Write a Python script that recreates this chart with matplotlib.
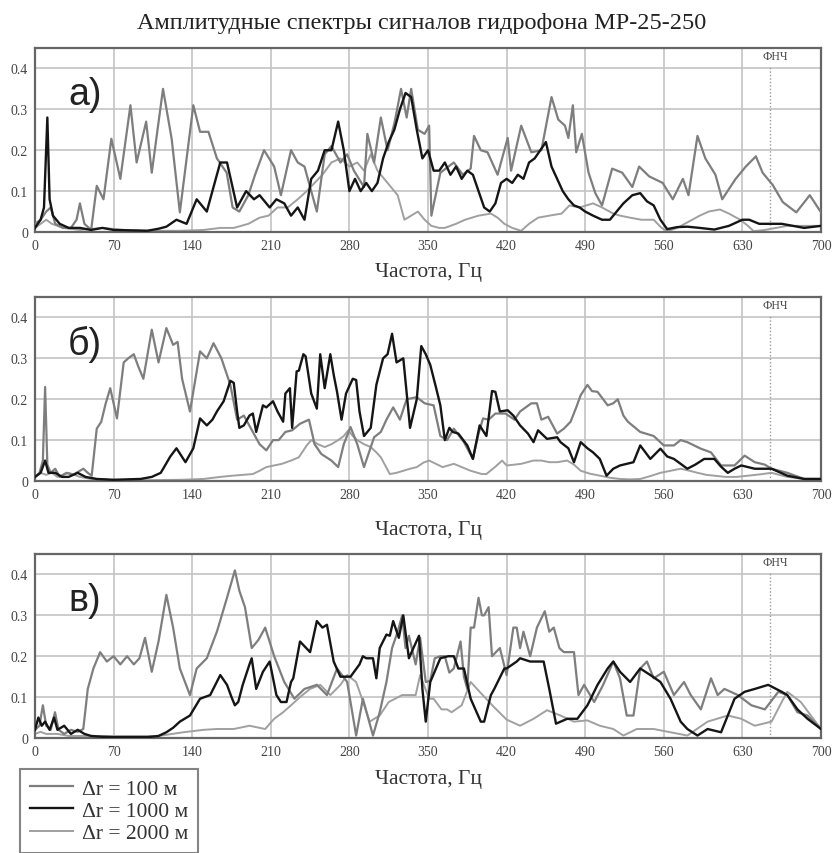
import matplotlib
matplotlib.use("Agg")
import matplotlib.pyplot as plt

plt.rcParams['font.family'] = ['Liberation Serif', 'DejaVu Serif']

title = "Амплитудные спектры сигналов гидрофона МР-25-250"
xlabel = "Частота, Гц"
panel_labels = ["а)", "б)", "в)"]
series_names = ["Δr = 100 м", "Δr = 1000 м", "Δr = 2000 м"]
xticks = [0, 70, 140, 210, 280, 350, 420, 490, 560, 630, 700]
yticks = [0, 0.1, 0.2, 0.3, 0.4]
ytick_labels = ["0", "0.1", "0.2", "0.3", "0.4"]
lpf_freq = 655
lpf_label = "ФНЧ"

# ---------- panel а ----------
a100_f = [0, 5, 10, 14, 18, 25, 32, 37, 40, 44, 50, 55, 61, 68, 76, 85, 90.5, 99, 104, 114, 121.7, 129, 141, 147, 154.5,
          162, 170.7, 176, 182, 190, 196, 204, 213, 219, 228, 234, 240, 246, 251, 258, 264, 272, 278, 284, 293, 296,
          302, 308, 314, 320, 326, 331, 335, 341, 347, 351, 353, 361, 373, 381, 388, 391, 397, 403, 412, 421, 424,
          433, 442, 451, 460, 466, 472, 475, 479, 482, 487, 493, 499, 505, 514, 523, 532, 538, 547, 559, 568, 577,
          582, 590, 597, 606, 612, 624, 633, 642, 648, 657, 666, 678, 690, 700]
a100_v = [0.02, 0.03, 0.05, 0.06, 0.02, 0.01, 0.01, 0.03, 0.07, 0.02, 0.005, 0.113, 0.08, 0.228, 0.13, 0.31, 0.17, 0.27,
          0.145, 0.35, 0.228, 0.048, 0.31, 0.245, 0.245, 0.18, 0.145, 0.06, 0.05, 0.09, 0.14, 0.2, 0.16, 0.09, 0.2, 0.17,
          0.16, 0.1, 0.05, 0.19, 0.21, 0.17, 0.19, 0.15, 0.11, 0.24, 0.17, 0.28, 0.2, 0.265, 0.35, 0.28, 0.35, 0.25,
          0.24, 0.26, 0.04, 0.145, 0.17, 0.14, 0.155, 0.235, 0.2, 0.195, 0.14, 0.23, 0.15, 0.26, 0.195, 0.2, 0.33,
          0.275, 0.26, 0.23, 0.31, 0.195, 0.24, 0.145, 0.095, 0.065, 0.155, 0.145, 0.11, 0.16, 0.136, 0.12, 0.08,
          0.13, 0.09, 0.235, 0.18, 0.14, 0.08, 0.13, 0.16, 0.185, 0.145, 0.115, 0.073, 0.048, 0.09, 0.048]

a1000_f = [0, 5, 8, 11, 13, 16, 22, 30, 40, 50, 60, 70, 100, 110, 117, 126, 135, 144, 153, 160, 165, 171, 180, 188, 195,
           200, 209, 215, 222, 228, 234, 240, 246, 252, 258, 264, 270, 275, 280, 285, 290, 295, 300, 305, 310, 315,
           320, 325, 330, 335, 340, 345, 350, 355, 360, 365, 370, 375, 380, 385, 390, 395, 400, 405, 410, 415, 420,
           425, 430, 435, 440, 445, 450, 455, 460, 465, 470, 475, 480, 485, 490, 497, 505, 512, 518, 524, 532, 539,
           545, 551, 557, 563, 572, 581, 592, 605, 618, 630, 636, 645, 655, 665, 675, 685, 700]
a1000_v = [0.01, 0.03, 0.06, 0.28, 0.08, 0.04, 0.02, 0.01, 0.01, 0.005, 0.01, 0.005, 0.003, 0.008, 0.013, 0.03, 0.02,
           0.08, 0.05, 0.12, 0.17, 0.17, 0.06, 0.1, 0.08, 0.09, 0.06, 0.08, 0.07, 0.04, 0.06, 0.03, 0.13, 0.15, 0.2,
           0.2, 0.27, 0.2, 0.1, 0.13, 0.1, 0.12, 0.1, 0.12, 0.18, 0.22, 0.25, 0.3, 0.34, 0.33, 0.25, 0.18, 0.2, 0.15,
           0.15, 0.17, 0.14, 0.16, 0.13, 0.15, 0.14, 0.1, 0.06, 0.05, 0.07, 0.12, 0.13, 0.12, 0.14, 0.13, 0.17, 0.18,
           0.2, 0.22, 0.16, 0.13, 0.1, 0.08, 0.065, 0.06, 0.05, 0.04, 0.03, 0.03, 0.05, 0.07, 0.09, 0.095, 0.075,
           0.065, 0.03, 0.007, 0.012, 0.013, 0.01, 0.006, 0.015, 0.03, 0.03, 0.02, 0.02, 0.02, 0.015, 0.01, 0.015]

a2000_f = [0, 5, 10, 15, 25, 40, 60, 80, 100, 130, 150, 165, 177, 190, 200, 208, 216, 225, 234, 242, 249, 256, 264, 272,
           280, 287, 293, 299, 305, 311, 317, 323, 329, 335, 341, 347, 353, 360, 365, 375, 383, 395, 406, 412, 418,
           425, 433, 440, 448, 458, 469, 476, 485, 497, 505, 515, 521, 530, 540, 551, 558, 563, 572, 582, 592, 600,
           610, 618, 628, 635, 640, 650, 660, 670, 685, 700]
a2000_v = [0.01, 0.02, 0.03, 0.02, 0.01, 0.005, 0.01, 0.005, 0.003, 0.003, 0.005, 0.01, 0.01, 0.02, 0.035, 0.04, 0.06,
           0.06, 0.08, 0.1, 0.12, 0.14, 0.17, 0.18, 0.16, 0.17, 0.15, 0.19, 0.15, 0.13, 0.11, 0.09, 0.03, 0.04, 0.05,
           0.03, 0.015, 0.01, 0.01, 0.02, 0.03, 0.04, 0.045, 0.035, 0.02, 0.01, 0.003, 0.02, 0.035, 0.04, 0.045, 0.065,
           0.06, 0.07, 0.06, 0.045, 0.04, 0.035, 0.03, 0.03, 0.01, 0.002, 0.01, 0.025, 0.04, 0.05, 0.055, 0.045, 0.03,
           0.015, 0.002, 0.005, 0.01, 0.015, 0.015, 0.015]

# ---------- panel б ----------
b100_f = [0, 4, 7, 9, 11, 14, 18, 22, 28, 34, 40, 43, 47, 50.5, 55, 59, 63, 67, 73, 79, 83, 88, 92, 96.5, 104, 110, 117,
          123, 127, 131, 138, 147, 153, 159, 166, 174, 180, 186, 194, 200, 206, 212, 217, 223, 229, 236, 244, 249,
          255, 264, 270, 275, 281, 287, 293, 302, 308, 313, 319, 325, 331, 340, 347, 355, 361, 367, 373, 382, 390,
          395, 399, 404, 410, 419, 427, 432, 442, 447, 451, 457, 465, 471, 477, 482, 486, 492, 496, 501, 506, 510,
          515, 519, 524, 528, 539, 545, 551, 560, 569, 575, 581, 593, 602, 611, 623, 632, 641, 650, 656, 670, 685, 700]
b100_v = [0.01, 0.02, 0.05, 0.23, 0.04, 0.02, 0.03, 0.01, 0.02, 0.015, 0.025, 0.03, 0.02, 0.013, 0.128, 0.145, 0.19,
          0.227, 0.153, 0.29, 0.3, 0.31, 0.28, 0.25, 0.37, 0.29, 0.374, 0.333, 0.34, 0.25, 0.17, 0.317, 0.3, 0.337, 0.3,
          0.235, 0.15, 0.16, 0.12, 0.09, 0.075, 0.1, 0.1, 0.12, 0.124, 0.14, 0.15, 0.09, 0.066, 0.05, 0.034, 0.09,
          0.132, 0.09, 0.034, 0.107, 0.12, 0.15, 0.18, 0.15, 0.2, 0.205, 0.19, 0.185, 0.11, 0.1, 0.128, 0.095, 0.054,
          0.116, 0.153, 0.15, 0.165, 0.165, 0.15, 0.17, 0.19, 0.19, 0.15, 0.157, 0.116, 0.128, 0.145, 0.18, 0.21,
          0.235, 0.22, 0.218, 0.2, 0.185, 0.19, 0.2, 0.16, 0.145, 0.12, 0.115, 0.11, 0.087, 0.087, 0.1, 0.095, 0.079,
          0.07, 0.038, 0.038, 0.062, 0.046, 0.04, 0.03, 0.02, 0.005, 0.005]

b1000_f = [0, 5, 9, 12, 18, 24, 30, 38, 45, 55, 70, 94, 104, 112, 120.5, 126, 134, 141, 147, 153, 158, 162, 168, 174,
           177, 180, 182, 186, 191, 194, 197, 203, 206, 212, 216, 221, 223, 227, 229, 233, 235, 239, 241, 246, 251,
           254, 258, 263, 266, 269, 273, 277, 283, 286, 289, 293, 299, 304, 310, 314, 318, 322, 328, 334, 340, 344,
           348, 352, 357, 361, 365, 369, 372, 377, 385, 390, 396, 402, 407, 410, 414, 421, 426, 432, 439, 444, 448,
           456, 465, 468, 475, 480, 486, 492, 497, 503, 509, 515, 521, 533, 539, 548, 557, 563, 569, 581, 588, 596,
           605, 611, 617, 623, 629, 641, 656, 670, 685, 700]
b1000_v = [0.01, 0.02, 0.05, 0.02, 0.02, 0.01, 0.01, 0.02, 0.01, 0.005, 0.003, 0.005, 0.01, 0.02, 0.06, 0.08, 0.046,
           0.08, 0.153, 0.136, 0.15, 0.17, 0.195, 0.245, 0.24, 0.17, 0.13, 0.136, 0.16, 0.165, 0.12, 0.185, 0.18, 0.195,
           0.17, 0.145, 0.214, 0.227, 0.13, 0.268, 0.27, 0.31, 0.305, 0.214, 0.177, 0.31, 0.227, 0.31, 0.26, 0.218,
           0.15, 0.214, 0.25, 0.247, 0.17, 0.11, 0.13, 0.235, 0.3, 0.31, 0.36, 0.29, 0.3, 0.13, 0.2, 0.33, 0.31, 0.284,
           0.23, 0.185, 0.1, 0.13, 0.12, 0.116, 0.087, 0.054, 0.136, 0.11, 0.22, 0.218, 0.17, 0.173, 0.16, 0.136,
           0.116, 0.095, 0.124, 0.103, 0.107, 0.095, 0.08, 0.046, 0.095, 0.08, 0.07, 0.054, 0.013, 0.03, 0.038, 0.046,
           0.087, 0.054, 0.079, 0.06, 0.054, 0.03, 0.04, 0.054, 0.054, 0.035, 0.02, 0.03, 0.038, 0.03, 0.03, 0.013,
           0.005, 0.005]

b2000_f = [0, 5, 10, 15, 20, 30, 40, 50, 70, 100, 130, 150, 165, 176, 185, 194, 200, 206, 213, 220, 228, 235, 242, 246,
           252, 258, 264, 270, 275, 279, 283, 287, 293, 299, 304, 308, 316, 322, 328, 334, 340, 346, 351, 357, 363,
           373, 380, 388, 398, 402, 410, 416, 420, 427, 433, 444, 451, 458, 465, 474, 480, 486, 494, 503, 512, 521,
           530, 539, 548, 557, 566, 575, 583, 590, 598, 605, 615, 625, 635, 645, 656, 670, 685, 700]
b2000_v = [0.01, 0.02, 0.015, 0.02, 0.01, 0.02, 0.01, 0.005, 0.002, 0.002, 0.003, 0.005, 0.01, 0.013, 0.015, 0.017,
           0.025, 0.034, 0.038, 0.042, 0.05, 0.058, 0.087, 0.1, 0.09, 0.083, 0.09, 0.1, 0.11, 0.124, 0.11, 0.1, 0.09,
           0.083, 0.07, 0.058, 0.017, 0.02, 0.025, 0.03, 0.034, 0.045, 0.05, 0.042, 0.034, 0.042, 0.034, 0.025, 0.017,
           0.017, 0.035, 0.05, 0.038, 0.04, 0.042, 0.05, 0.05, 0.046, 0.046, 0.05, 0.04, 0.025, 0.018, 0.013, 0.008,
           0.005, 0.004, 0.005, 0.012, 0.02, 0.025, 0.03, 0.025, 0.02, 0.015, 0.013, 0.01, 0.01, 0.013, 0.016, 0.02,
           0.01, 0.005, 0.003]

# ---------- panel в ----------
c100_f = [0, 4, 7, 10, 14, 17.8, 21, 26, 32, 38, 43, 47, 52, 58, 64, 70, 76, 82, 88, 93, 98, 104, 110, 117, 123, 129,
          138, 144, 153, 162, 171, 178, 182, 187, 193, 199, 205, 213, 222, 231, 240, 251, 260, 269, 278, 286, 292,
          301, 307, 313, 318, 323, 327, 330, 333, 339, 343, 348, 352, 356, 361, 365, 369, 373, 379, 382, 385, 388,
          391, 395, 398, 400, 404, 407, 414, 420, 426, 429, 432, 435, 441, 447, 454, 458, 462, 467, 471, 480, 484,
          489, 498, 506, 515, 521, 527, 533, 539, 545, 551, 560, 569, 578, 584, 593, 602, 608, 614, 626, 638, 650,
          662, 670, 679, 688, 700]
c100_v = [0.02, 0.03, 0.08, 0.03, 0.02, 0.063, 0.02, 0.01, 0.02, 0.015, 0.022, 0.12, 0.17, 0.21, 0.187, 0.2, 0.18, 0.2,
          0.18, 0.195, 0.245, 0.162, 0.236, 0.35, 0.27, 0.17, 0.105, 0.17, 0.195, 0.26, 0.343, 0.41, 0.36, 0.32, 0.22,
          0.24, 0.27, 0.2, 0.137, 0.096, 0.12, 0.13, 0.105, 0.17, 0.137, 0.006, 0.096, 0.006, 0.063, 0.137, 0.22, 0.26,
          0.3, 0.22, 0.25, 0.18, 0.245, 0.137, 0.14, 0.195, 0.2, 0.2, 0.16, 0.17, 0.236, 0.15, 0.12, 0.27, 0.27, 0.343,
          0.3, 0.3, 0.32, 0.2, 0.22, 0.154, 0.27, 0.27, 0.22, 0.26, 0.2, 0.27, 0.31, 0.26, 0.27, 0.22, 0.21, 0.21,
          0.105, 0.13, 0.088, 0.13, 0.187, 0.146, 0.055, 0.055, 0.17, 0.187, 0.146, 0.162, 0.105, 0.137, 0.105, 0.07,
          0.146, 0.105, 0.12, 0.105, 0.08, 0.07, 0.113, 0.105, 0.063, 0.055, 0.022]

c1000_f = [0, 3, 6, 9, 13, 17, 20, 26, 32, 38, 44, 50, 60, 70, 100, 110, 117, 123, 129, 138, 147, 156, 165, 171, 175,
           178, 181, 185, 191, 193, 197, 203, 209, 215, 219, 224, 228, 230, 236, 245, 251, 256, 260, 266, 272, 281,
           289, 292, 295, 301, 304, 307, 313, 316, 319, 324, 328, 333, 337, 342, 345, 348, 352, 361, 368, 373, 377,
           382, 388, 397, 400, 406, 409, 418, 420, 429, 432, 441, 444, 453, 458, 464, 474, 483, 492, 501, 510, 515,
           521, 530, 539, 548, 557, 566, 575, 581, 590, 599, 611, 617, 623, 632, 641, 653, 665, 670, 679, 688, 700]
c1000_v = [0.02, 0.05, 0.03, 0.04, 0.02, 0.05, 0.02, 0.03, 0.01, 0.02, 0.01, 0.005, 0.003, 0.002, 0.002, 0.005, 0.014,
           0.025, 0.04, 0.055, 0.096, 0.105, 0.154, 0.13, 0.1, 0.08, 0.088, 0.13, 0.18, 0.195, 0.12, 0.162, 0.187,
           0.105, 0.088, 0.088, 0.137, 0.146, 0.236, 0.21, 0.286, 0.27, 0.277, 0.187, 0.15, 0.15, 0.18, 0.2, 0.195,
           0.195, 0.146, 0.22, 0.253, 0.25, 0.286, 0.245, 0.3, 0.195, 0.22, 0.25, 0.12, 0.04, 0.137, 0.195, 0.2, 0.2,
           0.17, 0.17, 0.096, 0.04, 0.04, 0.105, 0.12, 0.17, 0.17, 0.187, 0.195, 0.187, 0.187, 0.187, 0.12, 0.035,
           0.047, 0.047, 0.08, 0.13, 0.17, 0.187, 0.162, 0.137, 0.17, 0.154, 0.137, 0.096, 0.04, 0.022, 0.006, 0.022,
           0.014, 0.055, 0.096, 0.113, 0.12, 0.13, 0.113, 0.105, 0.07, 0.047, 0.022]

c2000_f = [0, 5, 10, 20, 30, 50, 80, 110, 132, 150, 162, 177, 191, 205, 213, 221, 228, 236, 245, 254, 263, 272, 278,
           286, 292, 298, 307, 315, 327, 339, 343, 351, 355, 362, 367, 371, 380, 388, 397, 409, 420, 432, 444, 456,
           468, 480, 492, 503, 515, 524, 536, 551, 566, 581, 599, 617, 629, 641, 656, 665, 670, 682, 691, 700]
c2000_v = [0.01, 0.015, 0.01, 0.01, 0.005, 0.005, 0.005, 0.005, 0.014, 0.02, 0.022, 0.022, 0.03, 0.022, 0.047, 0.063,
           0.08, 0.1, 0.12, 0.13, 0.105, 0.13, 0.154, 0.137, 0.09, 0.04, 0.055, 0.088, 0.105, 0.105, 0.154, 0.096,
           0.096, 0.07, 0.07, 0.063, 0.08, 0.137, 0.11, 0.075, 0.045, 0.03, 0.047, 0.068, 0.055, 0.04, 0.043, 0.03,
           0.022, 0.006, 0.022, 0.022, 0.014, 0.006, 0.04, 0.055, 0.047, 0.03, 0.04, 0.088, 0.113, 0.088, 0.055, 0.022]

panels = [
    [(a100_f, a100_v), (a1000_f, a1000_v), (a2000_f, a2000_v)],
    [(b100_f, b100_v), (b1000_f, b1000_v), (b2000_f, b2000_v)],
    [(c100_f, c100_v), (c1000_f, c1000_v), (c2000_f, c2000_v)],
]

colors = ["#7e7e7e", "#151515", "#a0a0a0"]
widths = [1.6, 1.7, 1.4]
zorders = [3, 4, 2]

W, H = 837, 854
fig = plt.figure(figsize=(W / 100, H / 100), dpi=100)

ax_left, ax_right = 35, 821
ax_tops = [49, 298, 555]
ax_h = 184
xlabel_y = [273, 530, 780]

handles = None
for i, (top, data) in enumerate(zip(ax_tops, panels)):
    ax = fig.add_axes([ax_left / W, 1 - (top + ax_h) / H, (ax_right - ax_left) / W, ax_h / H])
    lines = []
    for (f, v), c, lw, z in zip(data, colors, widths, zorders):
        ln, = ax.plot(f, v, color=c, lw=lw, zorder=z)
        lines.append(ln)
    if handles is None:
        handles = lines
    ax.set_xlim(0, 700)
    ax.set_ylim(0, 0.45)
    ax.set_xticks(xticks)
    ax.set_yticks(yticks)
    ax.set_yticklabels(ytick_labels)
    ax.grid(True, color="#c4c4c4", lw=1.2, zorder=0)
    ax.set_axisbelow(True)
    ax.tick_params(length=0, labelsize=10, colors="#444444", pad=5)
    for s in ax.spines.values():
        s.set_color("#666666")
        s.set_linewidth(1.6)
    ax.axvline(lpf_freq, ymin=0, ymax=0.405 / 0.45, color="#9a9a9a", lw=1.0, ls=(0, (1, 1.5)), zorder=1)
    ax.text(lpf_freq + 4, 0.43, lpf_label, fontsize=8.5, color="#444444", ha="center", va="center")
    ax.text(0.042, 0.75, panel_labels[i], transform=ax.transAxes, fontsize=27,
            family=["Liberation Sans", "DejaVu Sans"], color="#222222", ha="left", va="center")
    fig.text(429 / W, 1 - xlabel_y[i] / H, xlabel, fontsize=15.5, color="#333333", ha="center", va="center")

fig.text(422 / W, 1 - 24 / H, title, fontsize=17.5, color="#222222", ha="center", va="center")

leg = fig.legend(handles, series_names, loc="upper left", bbox_to_anchor=(20 / W, 1 - 770 / H),
                 borderaxespad=0, fontsize=15.5, handlelength=2.0, handletextpad=0.45, labelspacing=0.1,
                 borderpad=0.45, frameon=True, fancybox=False, edgecolor="#666666")
leg.get_frame().set_linewidth(1.5)
for t in leg.get_texts():
    t.set_color("#333333")

fig.savefig("out.png", dpi=100, facecolor="white")
